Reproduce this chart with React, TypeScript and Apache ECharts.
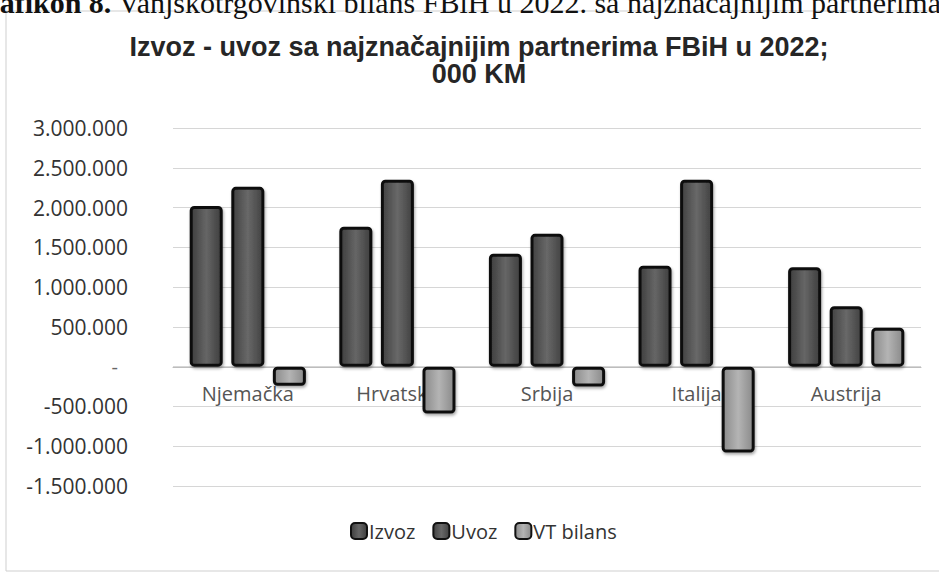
import React, { useEffect, useRef } from 'react';
import * as echarts from 'echarts';

const categories = ['Njemačka', 'Hrvatska', 'Srbija', 'Italija', 'Austrija'];
const izvoz = [2020000, 1760000, 1420000, 1270000, 1250000];
const uvoz = [2260000, 2350000, 1670000, 2350000, 760000];
const vtBilans = [-240000, -590000, -250000, -1080000, 490000];
const seriesNames = ['Izvoz', 'Uvoz', 'VT bilans'];
const titleLines = ['Izvoz - uvoz sa najznačajnijim partnerima FBiH u 2022;', '000 KM'];
const captionBold = 'Grafikon 8.';
const captionText = 'Vanjskotrgovinski bilans FBiH u 2022. sa najznačajnijim partnerima';

function fmt(v: number): string {
  if (v === 0) return '{z|-}';
  const s = Math.abs(v).toString().replace(/\B(?=(\d{3})+(?!\d))/g, '.');
  return (v < 0 ? '-' : '') + s;
}

function grad(edge: string, mid: string) {
  return new echarts.graphic.LinearGradient(0, 0, 1, 0, [
    { offset: 0, color: edge },
    { offset: 0.5, color: mid },
    { offset: 1, color: edge },
  ]);
}

export default function App() {
  const ref = useRef<HTMLDivElement>(null);
  useEffect(() => {
    if (!ref.current) return;
    const chart = echarts.init(ref.current, null, { renderer: 'svg' });
    const barStyle = (edge: string, mid: string) => ({
      color: grad(edge, mid),
      borderColor: '#111',
      borderWidth: 3,
      borderRadius: 3,
      shadowBlur: 3,
      shadowColor: 'rgba(0,0,0,0.35)',
      shadowOffsetX: 1,
      shadowOffsetY: 2,
    });
    const fills = [
      ['#3e3e3e', '#666666'],
      ['#424242', '#686868'],
      ['#8a8a8a', '#b4b4b4'],
    ];
    const datasets = [izvoz, uvoz, vtBilans];
    chart.setOption({
      animation: false,
      backgroundColor: '#fff',
      title: {
        text: titleLines.join('\n'),
        left: 474,
        top: 28,
        textAlign: 'center',
        textStyle: {
          fontFamily: '"Liberation Sans", Arial, sans-serif',
          fontWeight: 'bold',
          fontSize: 27,
          lineHeight: 27,
          color: '#262626',
        },
      },
      graphic: [
        {
          type: 'rect',
          shape: { x: 6, y: 11, width: 940, height: 560 },
          style: { fill: 'none', stroke: '#cfcfcf', lineWidth: 1 },
          silent: true,
        },
        {
          type: 'text',
          x: -37,
          y: 2,
          style: {
            text: '{b|' + captionBold + '} ' + captionText,
            rich: { b: { fontWeight: 'bold', fontSize: 30, fontFamily: '"Liberation Serif", serif', fill: '#111' } },
            fontFamily: '"Liberation Serif", serif',
            fontSize: 30,
            fill: '#111',
            verticalAlign: 'middle',
          },
          silent: true,
        },
      ],
      legend: {
        data: seriesNames,
        left: 345,
        top: 516,
        orient: 'horizontal',
        itemWidth: 16,
        itemHeight: 16,
        itemGap: 17,
        icon: 'roundRect',
        textStyle: { fontFamily: '"Open Sans", sans-serif', fontSize: 20, color: '#333', padding: [0, 0, 0, -3] },
      },
      grid: { left: 173, right: 18, top: 128, bottom: 88 },
      xAxis: {
        type: 'category',
        data: categories,
        position: 'bottom',
        offset: -119,
        axisLine: { onZero: false, lineStyle: { color: '#bdbdbd', width: 1 } },
        axisTick: { show: false },
        axisLabel: {
          margin: 16,
          fontFamily: '"Open Sans", sans-serif',
          fontSize: 20,
          color: '#555',
        },
        z: 0,
      },
      yAxis: {
        type: 'value',
        min: -1500000,
        max: 3000000,
        interval: 500000,
        axisLine: { show: false },
        axisTick: { show: false },
        splitLine: { lineStyle: { color: '#d6d6d6', width: 1 } },
        axisLabel: {
          margin: 45,
          fontFamily: '"Open Sans", sans-serif',
          fontSize: 21,
          color: '#333',
          formatter: fmt,
          rich: { z: { padding: [0, 10, 0, 0], fontSize: 20, color: '#666', fontFamily: '"Open Sans", sans-serif' } },
        },
      },
      series: seriesNames.map((name, i) => ({
        name,
        type: 'bar',
        data: datasets[i],
        barWidth: 33,
        barGap: '26%',
        itemStyle: barStyle(fills[i][0], fills[i][1]),
        z: 3,
      })),
    });
    return () => chart.dispose();
  }, []);
  return <div ref={ref} style={{ position: 'absolute', left: 0, top: 0, width: 939, height: 574 }} />;
}
